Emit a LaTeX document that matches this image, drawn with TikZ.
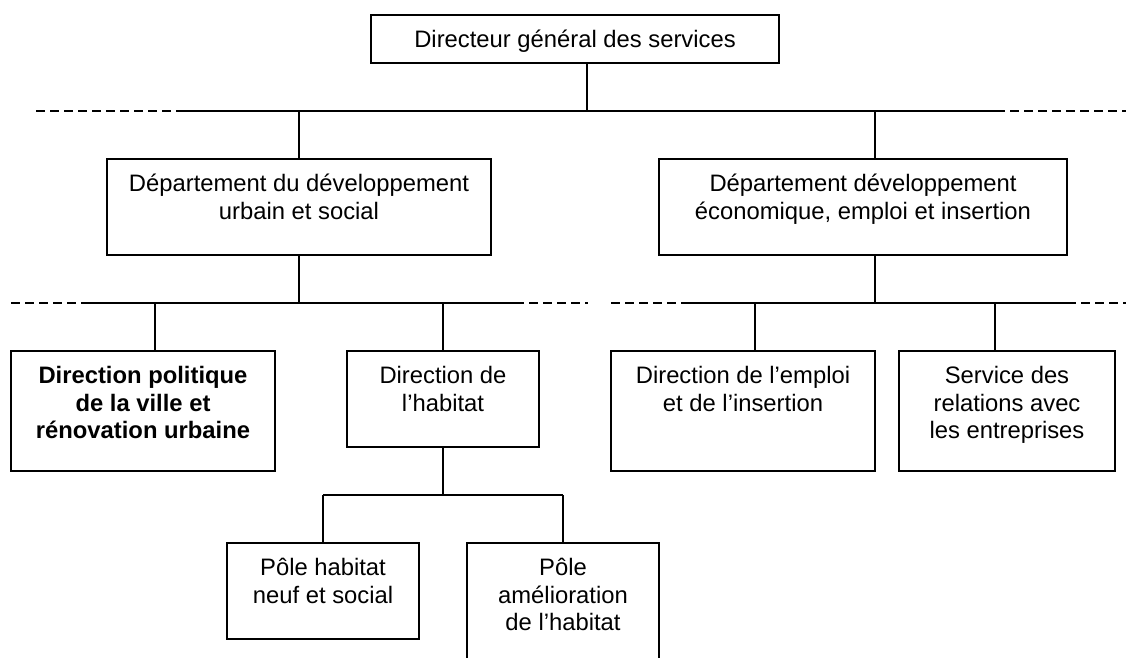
\documentclass[tikz,border=0pt]{standalone}
\usepackage{fontspec}
\setmainfont{Liberation Sans}
\usetikzlibrary{positioning}

\begin{document}
\begin{tikzpicture}[
        x=1pt, y=-1pt,
        % --- STYLE CHUNG ---
        common/.style={
            draw=black,
            line width=1.6pt
        },
        % Style Hộp
        box_node/.style={
            rectangle,
            common,
            inner sep=0pt,
            minimum height=96pt
        },
        % Style Chữ trong hộp
        text_node/.style={
            align=center,
            inner sep=0pt,
            font=\fontsize{23.8}{27.4}\selectfont
        },
        % Style đường nối
        link/.style={common},
        % Style đường nối gạch
        dash_link/.style={
            common,
            dash pattern=on 9pt off 5pt
        }
    ]

        \useasboundingbox (0,0) rectangle (1126,657);
        \clip (0,0) rectangle (1126,657);

        % --- CÁC HỘP ---
        \node[box_node, minimum width=408pt, minimum height=48pt] (dg) at (575,39) {};
        \node[box_node, minimum width=384pt] (deptA) at (299,207) {};
        \node[box_node, minimum width=408pt] (deptB) at (863,207) {};
        \node[box_node, minimum width=264pt, minimum height=120pt] (pol) at (143,411) {};
        \node[box_node, minimum width=192pt] (hab) at (443,399) {};
        \node[box_node, minimum width=264pt, minimum height=120pt] (emp) at (743,411) {};
        \node[box_node, minimum width=216pt, minimum height=120pt] (srv) at (1007,411) {};
        \node[box_node, minimum width=192pt] (poleN) at (323,591) {};
        \node[box_node, minimum width=192pt, minimum height=130pt] (poleA) at (563,608) {};

        % --- CHỮ ---
        \node[text_node, below=16pt of dg.north] (dg_t) {Directeur général des services};
        \node[text_node, below=16pt of deptA.north] (deptA_t) {Département du développement\\urbain et social};
        \node[text_node, below=16pt of deptB.north] (deptB_t) {Département développement\\économique, emploi et insertion};
        \node[text_node, below=16pt of pol.north, font=\fontsize{23.8}{27.4}\selectfont\bfseries] (pol_t) {Direction politique\\de la ville et\\rénovation urbaine};
        \node[text_node, below=16pt of hab.north] (hab_t) {Direction de\\l’habitat};
        \node[text_node, below=16pt of emp.north] (emp_t) {Direction de l’emploi\\et de l’insertion};
        \node[text_node, below=16pt of srv.north] (srv_t) {Service des\\relations avec\\les entreprises};
        \node[text_node, below=16pt of poleN.north] (poleN_t) {Pôle habitat\\neuf et social};
        \node[text_node, below=16pt of poleA.north] (poleA_t) {Pôle\\amélioration\\de l’habitat};

        % --- ĐIỂM NỐI ---
        \coordinate (j0) at (587,111);
        \coordinate (b1w) at (36,111);
        \coordinate (b1a) at (177,111);
        \coordinate (b1b) at (996,111);
        \coordinate (b1e) at (1126,111);
        \coordinate (jB) at (875,111);

        \coordinate (b2w) at (11,303);
        \coordinate (b2a) at (82,303);
        \coordinate (b2b) at (515,303);
        \coordinate (b2c) at (588,303);
        \coordinate (b2d) at (611,303);
        \coordinate (b2e) at (683,303);
        \coordinate (b2f) at (1067,303);
        \coordinate (b2g) at (1126,303);
        \coordinate (jP) at (155,303);
        \coordinate (jE) at (755,303);
        \coordinate (jS) at (995,303);

        \coordinate (b3) at (443,495);

        % --- TẦNG 1 ---
        \draw[link] (j0 |- dg.south) -- (j0);
        \draw[dash_link] (b1w) -- (b1a);
        \draw[link] (b1a) -- (b1b);
        \draw[dash_link] (b1b) -- (b1e);
        \draw[link] (b1a -| deptA) -- (deptA.north);
        \draw[link] (jB) -- (jB |- deptB.north);

        % --- TẦNG 2 ---
        \draw[link] (deptA.south) -- (b2a -| deptA);
        \draw[link] (jB |- deptB.south) -- (jB |- b2e);
        \draw[dash_link] (b2w) -- (b2a);
        \draw[link] (b2a) -- (b2b);
        \draw[dash_link] (b2b) -- (b2c);
        \draw[dash_link] (b2d) -- (b2e);
        \draw[link] (b2e) -- (b2f);
        \draw[dash_link] (b2f) -- (b2g);
        \draw[link] (jP) -- (jP |- pol.north);
        \draw[link] (b2a -| hab) -- (hab.north);
        \draw[link] (jE) -- (jE |- emp.north);
        \draw[link] (jS) -- (jS |- srv.north);

        % --- TẦNG 3 ---
        \draw[link] (hab.south) -- (b3);
        \draw[link] (b3 -| poleN) -- (b3 -| poleA);
        \draw[link] (b3 -| poleN) -- (poleN.north);
        \draw[link] (b3 -| poleA) -- (poleA.north);

    \end{tikzpicture}
\end{document}
